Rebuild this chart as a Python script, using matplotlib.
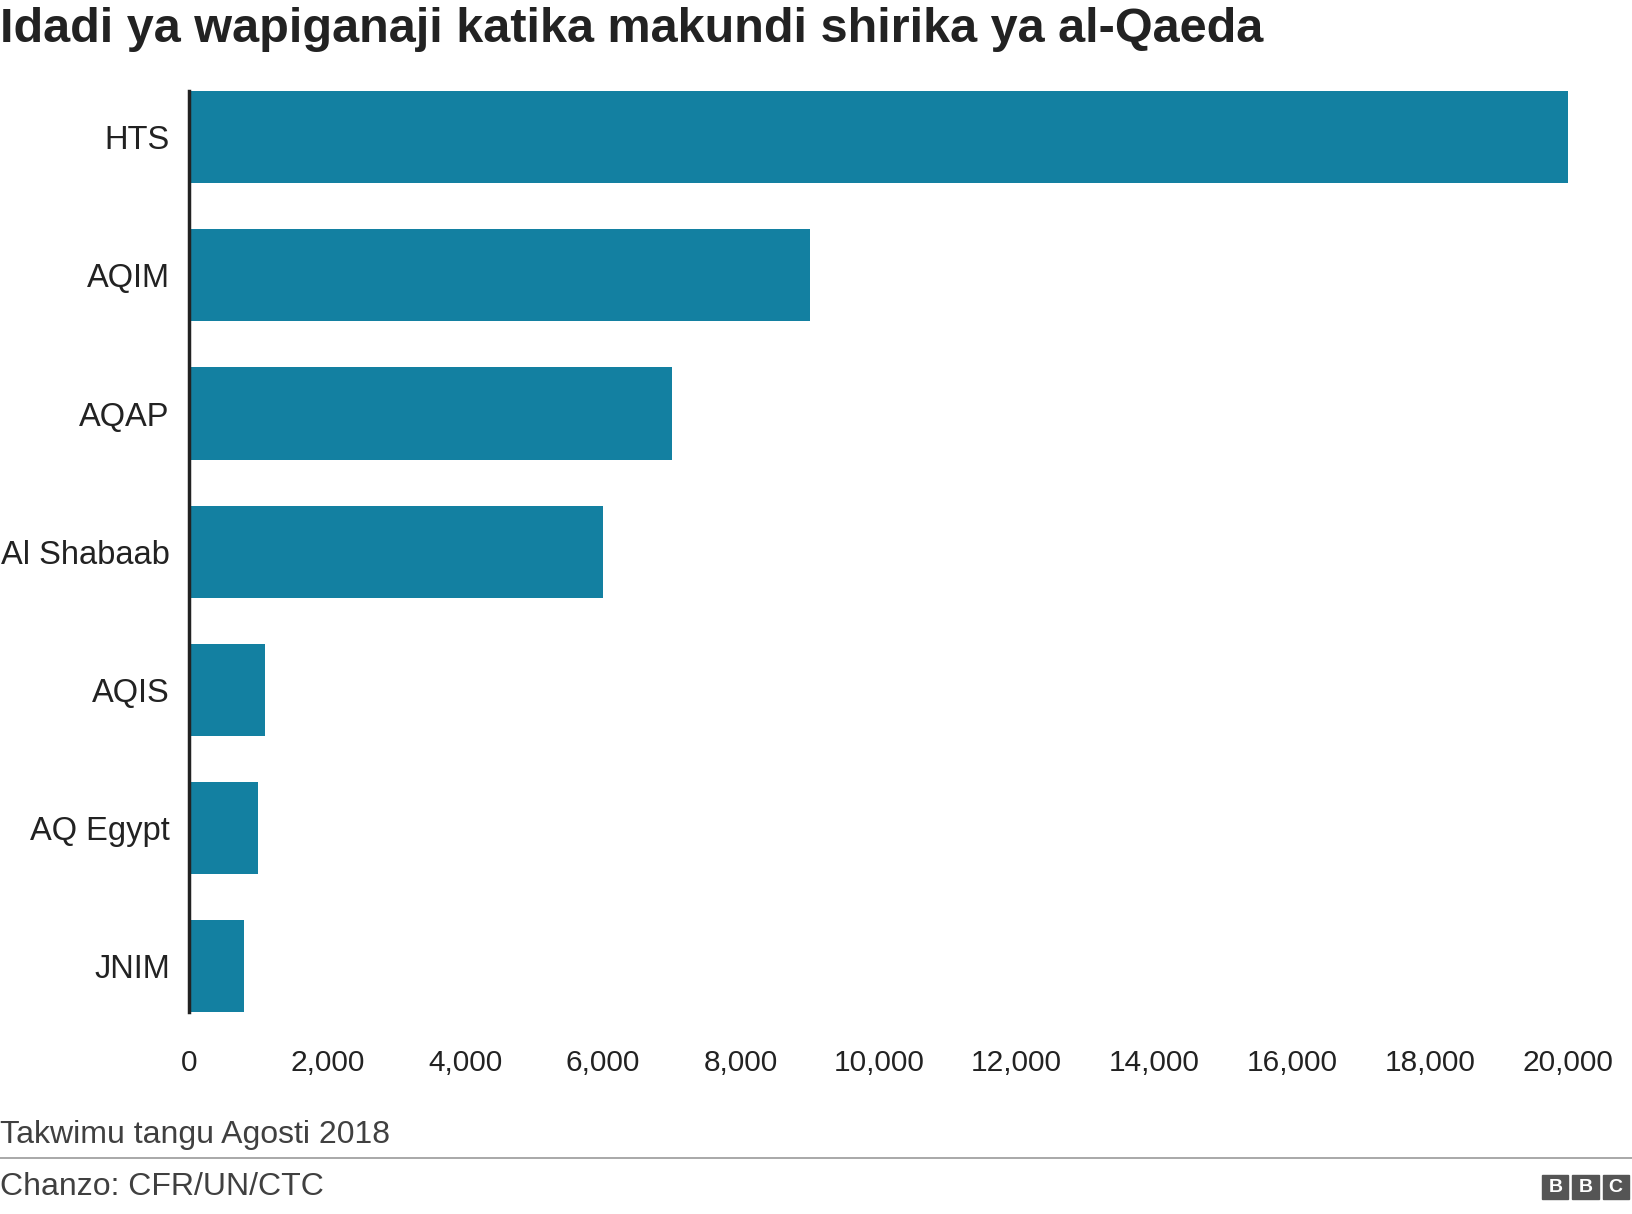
import matplotlib
matplotlib.use("Agg")
import matplotlib.pyplot as plt
from matplotlib.ticker import FuncFormatter

plt.rcParams['font.family'] = ['Liberation Sans', 'DejaVu Sans']

groups = ["HTS", "AQIM", "AQAP", "Al Shabaab", "AQIS", "AQ Egypt", "JNIM"]
fighters = [20000, 9000, 7000, 6000, 1100, 1000, 800]
xticks = [0, 2000, 4000, 6000, 8000, 10000, 12000, 14000, 16000, 18000, 20000]

fig = plt.figure(figsize=(16.32, 12.14), dpi=100)
ax = fig.add_axes([0.116, 0.166, 0.845, 0.759])
ypos = list(range(len(groups)))
ax.barh(ypos, fighters, height=0.667, color="#1380A1")
ax.set_ylim(len(groups) - 1 + 0.3335, -0.3335)
ax.set_xlim(0, 20000)
ax.set_yticks(ypos)
ax.set_yticklabels(groups, fontsize=23.5, color='#222222')
ax.set_xticks(xticks)
ax.xaxis.set_major_formatter(FuncFormatter(lambda v, p: f"{int(v):,}"))
ax.tick_params(axis='x', labelsize=21.5, length=0, pad=26, labelcolor='#222222')
ax.tick_params(axis='y', length=0, pad=14)
for s in ['top', 'right', 'bottom']:
    ax.spines[s].set_visible(False)
ax.spines['left'].set_linewidth(2.5)
ax.spines['left'].set_color('#222222')

fig.text(0.0, 0.994, "Idadi ya wapiganaji katika makundi shirika ya al-Qaeda",
         fontsize=35, fontweight='bold', va='top', ha='left', color='#222222')
fig.text(0.0, 0.065, "Takwimu tangu Agosti 2018", fontsize=23, color='#404040', va='center')
fig.add_artist(plt.Line2D([0, 1], [0.046, 0.046], color='#999999', lw=1.2))
fig.text(0.0, 0.022, "Chanzo: CFR/UN/CTC", fontsize=23, color='#404040', va='center')
x0 = 0.945
for i, ch in enumerate("BBC"):
    fig.patches.append(plt.Rectangle((x0 + i * 0.0185, 0.012), 0.016, 0.02,
                                     transform=fig.transFigure, color='#555555'))
    fig.text(x0 + i * 0.0185 + 0.008, 0.022, ch, color='white', fontsize=14,
             fontweight='bold', ha='center', va='center')
fig.savefig("out.png", dpi=100)
